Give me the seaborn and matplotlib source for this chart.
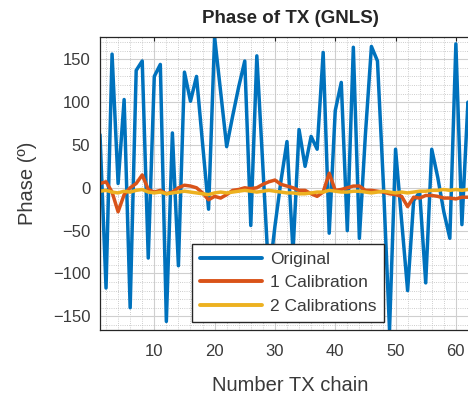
import numpy as np
import pandas as pd
import matplotlib
matplotlib.use("Agg")
import matplotlib.pyplot as plt
import seaborn as sns
from matplotlib.ticker import MultipleLocator
from matplotlib.lines import Line2D

# ---- data ----
chain = list(range(1, 65))
original = [62, -117, 156, 5, 103, -140, 137, 148, -82, 130,
            144, -156, 64, -91, 135, 101, 130, 52, -25, 176,
            112, 48, 84, 118, 148, -44, 154, 25, -105, -45,
            8, 54, -75, 68, 25, 60, 45, 158, -53, 90,
            123, -50, 164, -59, 62, 165, 148, 2, -166, 45,
            -38, -120, -15, -5, -111, 45, 12, -28, -59, 168,
            -43, 100, 30, -20]
cal1 = [5, 7, -5, -28, -8, 0, 5, 15, -2, -5,
        -3, -7, -5, 0, 3, 2, 0, -6, -14, -10,
        -12, -8, -3, -2, 0, -1, 0, 4, 7, 9,
        4, 2, 0, -3, -3, -7, -10, -5, 17, -3,
        -2, 0, 2, 2, -3, -3, -4, -5, -7, -8,
        -10, -22, -11, -12, -9, -9, -10, -12, -12, -13,
        -11, -11, -12, -11]
cal2 = [-4, -3, -5, -6, -4, -5, -3, -2, -5, -6,
        -5, -7, -6, -5, -4, -5, -6, -7, -8, -6,
        -5, -6, -5, -4, -3, -4, -5, -4, -3, -4,
        -5, -6, -6, -7, -7, -6, -5, -5, -3, -4,
        -5, -5, -4, -4, -5, -6, -5, -4, -5, -6,
        -5, -6, -5, -4, -4, -3, -3, -2, -3, -2,
        -3, -2, -3, -3]
series_names = ["Original", "1 Calibration", "2 Calibrations"]
colors = ["#0072BD", "#D95319", "#EDB120"]
xticks = [10, 20, 30, 40, 50, 60]
yticks = [-150, -100, -50, 0, 50, 100, 150]

df = pd.DataFrame({
    "chain": chain * 3,
    "phase": original + cal1 + cal2,
    "series": [series_names[0]] * len(chain) + [series_names[1]] * len(chain)
              + [series_names[2]] * len(chain),
})

sns.set_style("white")
plt.rcParams["font.family"] = ["Liberation Sans", "DejaVu Sans"]
text_col = "#262626"
tick_col = "#3a3a3a"

fig = plt.figure(figsize=(4.68, 3.96), dpi=100)
ax = fig.add_axes([100 / 468, 66 / 396, 380 / 468, 293 / 396])

sns.lineplot(data=df, x="chain", y="phase", hue="series",
             palette=dict(zip(series_names, colors)), estimator=None,
             linewidth=2.5, ax=ax, legend=False, sort=False)

ax.set_xlim(min(chain), max(chain))
allv = original + cal1 + cal2
ax.set_ylim(min(allv), max(allv))
ax.set_xticks(xticks)
ax.set_yticks(yticks)
ax.xaxis.set_minor_locator(MultipleLocator(2))
ax.yaxis.set_minor_locator(MultipleLocator(10))
ax.grid(True, which="major", color="#cfcfcf", linewidth=0.8, linestyle="-")
ax.grid(True, which="minor", color="#bdbdbd", linewidth=0.6, linestyle=":")
ax.set_axisbelow(True)
ax.tick_params(which="both", direction="in", colors=text_col, labelsize=12,
               labelcolor=tick_col, top=True, right=True, length=3)
ax.tick_params(axis="x", pad=10)
ax.tick_params(axis="y", pad=7)
ax.tick_params(which="minor", length=0)
for s in ax.spines.values():
    s.set_color(text_col)
    s.set_linewidth(0.9)

ax.set_xlabel("Number TX chain", fontsize=14.5, color=tick_col, labelpad=12)
ax.set_ylabel("Phase (º)", fontsize=14.5, color=tick_col, labelpad=11)
ax.set_title("Phase of TX (GNLS)", fontsize=13.5, fontweight="bold",
             color=text_col, pad=10)

handles = [Line2D([], [], color=c, linewidth=2.8) for c in colors]
leg = ax.legend(handles, series_names, loc="lower left",
                bbox_to_anchor=(0.242, 0.027), fontsize=12.5, frameon=True,
                fancybox=False, framealpha=1, edgecolor=text_col,
                handlelength=3.6, borderpad=0.45, labelspacing=0.5,
                handletextpad=0.45, borderaxespad=0)
leg.get_frame().set_linewidth(1.0)
for t in leg.get_texts():
    t.set_color(tick_col)

fig.savefig("out.png", dpi=100)
